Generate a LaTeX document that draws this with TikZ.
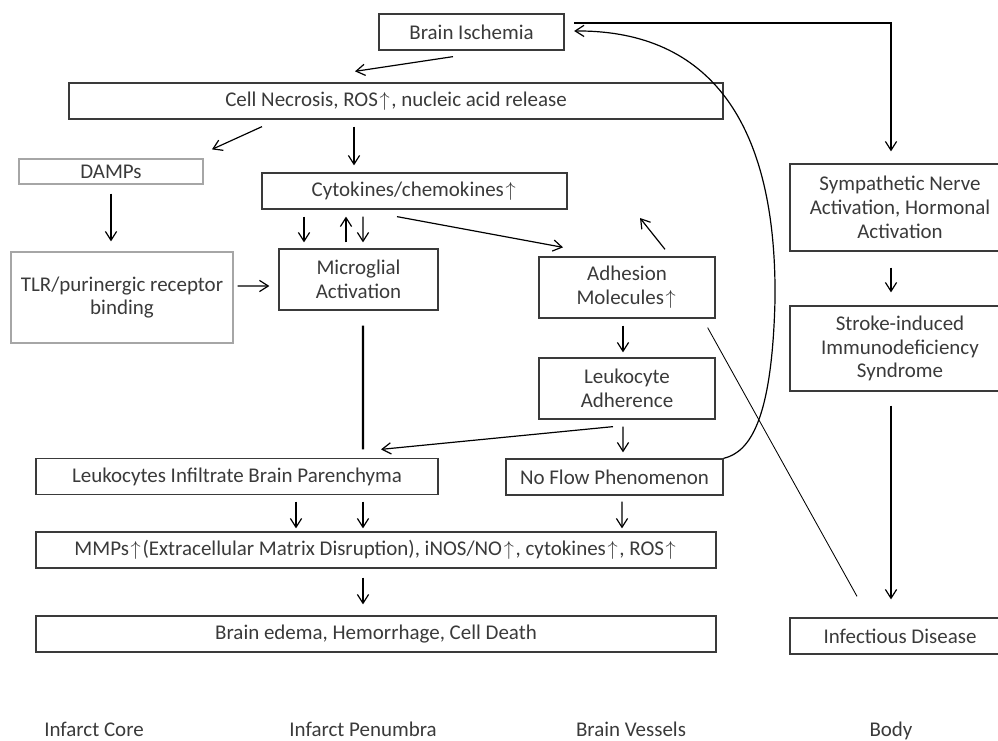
\documentclass[tikz,border=0pt]{standalone}
\usepackage{fontspec}
\setmainfont{Carlito}
\usetikzlibrary{arrows.meta,calc}
\definecolor{Ink}{HTML}{3A3A3A}
\definecolor{Pale}{HTML}{A6A6A6}
\newcommand{\boxfont}{\fontsize{14.9}{17}\selectfont}
\newcommand{\uparr}{\ensuremath{\mkern1.5mu\uparrow\mkern1.5mu}}
\tikzset{
 box/.style={draw=Ink,line width=0.9pt,text=Ink,align=center,font=\boxfont,inner sep=1pt},
 pale/.style={box,draw=Pale},
 wh/.style 2 args={minimum width=#1*0.025cm,minimum height=#2*0.025cm},
 arr/.style={-{Straight Barb[length=2.2mm,width=2.8mm]},line width=0.85pt},
 link/.style={line width=1.6pt},
 hair/.style={line width=0.6pt}
}
\begin{document}
\begin{tikzpicture}[x=0.025cm,y=-0.025cm]
\useasboundingbox (0,0) rectangle (998,741);
\node[box,wh={185}{36}] (isch) at (471.5,32) {Brain Ischemia};
\node[box,wh={654}{36}] (necr) at (396,101) {Cell Necrosis, ROS\uparr, nucleic acid release};
\node[pale,wh={184}{25}] (damps) at (111,171.5) {DAMPs};
\node[box,wh={305}{36}] (cyto) at (414.5,191) {Cytokines/chemokines\uparr};
\node[pale,wh={222}{91}] (tlr) at (122,297.5) {TLR/purinergic receptor\\binding};
\node[box,wh={159}{61}] (micro) at (358.5,279.5) {Microglial\\Activation};
\node[box,wh={176}{61}] (adh) at (627,287.5) {Adhesion\\Molecules\uparr};
\node[box,wh={176}{61}] (adher) at (627,388.5) {Leukocyte\\Adherence};
\node[box,wh={402}{36}] (infl) at (237,476.5) {Leukocytes Infiltrate Brain Parenchyma};
\node[box,wh={217}{36}] (noflow) at (614.5,477) {No Flow Phenomenon};
\node[box,wh={680}{36}] (mmp) at (376,550) {MMPs\uparr(Extracellular Matrix Disruption), iNOS/NO\uparr, cytokines\uparr, ROS\uparr};
\node[box,wh={680}{36}] (edema) at (376,634) {Brain edema, Hemorrhage, Cell Death};
\node[box,wh={220}{87}] (symp) at (900,207.5) {Sympathetic Nerve\\Activation, Hormonal\\Activation};
\node[box,wh={220}{85}] (stroke) at (900,348.5) {Stroke-induced\\Immunodeficiency\\Syndrome};
\node[box,wh={220}{36}] (infect) at (900,636) {Infectious Disease};
\foreach \x/\name/\txt in {94/core/Infarct Core,363/penumbra/Infarct Penumbra,631/vessels/Brain Vessels,891/body/Body}
 \node[font=\boxfont,text=Ink,anchor=base] (\name) at (\x,736) {\txt};
\coordinate (adhtip) at (640,218);
\draw[arr] ($(isch.south)+(-18.5,6)$) -- ($(necr.north)+(-41,-11)$);
\draw[arr] ($(necr.south)+(-134,7)$) -- ($(damps.north)+(101,-9)$);
\draw[arr] ($(necr.south)+(-42,7)$) -- ($(cyto.north)+(-60.5,-7)$);
\draw[arr] ($(damps.south)+(0,9)$) -- ($(tlr.north)+(-11,-10)$);
\foreach \a/\b in {-110.5/-54.5,-51.5/4.5}
 \draw[arr] ($(cyto.south)+(\a,7)$) -- ($(micro.north)+(\b,-6)$);
\draw[arr] ($(micro.north)+(-12.5,-6)$) -- ($(cyto.south)+(-68.5,7)$);
\draw[arr] ($(cyto.south)+(-17.5,7)$) -- ($(adh.north)+(-64,-9)$);
\draw[arr] ($(adh.north)+(38,-7)$) -- (adhtip);
\draw[arr] ($(tlr.east)+(4,-11.5)$) -- ($(micro.west)+(-9,6.5)$);
\draw[link] ($(micro.south)+(4.5,15)$) -- ($(infl.north)+(126,-8.5)$);
\draw[arr] ($(adher.south)+(-14,7)$) -- ($(infl.north)+(144,-8.5)$);
\draw[arr] ($(adh.south)+(-4,7)$) -- ($(adher.north)+(-4,-5)$);
\draw[arr] ($(adher.south)+(-4,7)$) -- ($(noflow.north)+(8.5,-6)$);
\draw[arr] (noflow.north east) .. controls (750,452) and (772,420) .. (775,300)
 .. controls (777,110) and (700,30) .. ($(isch.east)+(9.5,-1)$);
\draw[arr] ($(isch.east)+(9.5,-9)$) -| ($(symp.north)+(-9,-12)$);
\draw[arr] ($(symp.south)+(-9,16)$) -- ($(stroke.north)+(-9,-13)$);
\draw[arr] ($(stroke.south)+(-9,14)$) -- ($(infect.north)+(-9,-18)$);
\draw[hair] ($(adh.south east)+(-8,9)$) -- ($(infect.north)+(-43,-21)$);
\foreach \a/\b in {59/-80,126/-13}
 \draw[arr] ($(infl.south)+(\a,6.5)$) -- ($(mmp.north)+(\b,-3)$);
\draw[arr] ($(noflow.south)+(7.5,6)$) -- ($(mmp.north)+(246,-3)$);
\draw[arr] ($(mmp.south)+(-13,9)$) -- ($(edema.north)+(-13,-11)$);
\end{tikzpicture}
\end{document}
